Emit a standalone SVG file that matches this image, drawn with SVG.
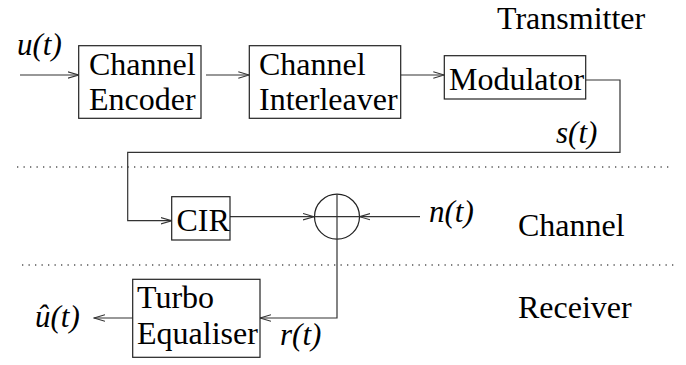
<svg xmlns="http://www.w3.org/2000/svg" width="686" height="365" viewBox="0 0 686 365">
<style>
.box{fill:#fff;stroke:#222;stroke-width:1.2}
.ln{fill:none;stroke:#333;stroke-width:1.2}
.dot{fill:none;stroke:#555;stroke-width:1.3;stroke-dasharray:1.3 5.2}
.t{font-family:"Liberation Serif","Times New Roman",serif;font-size:32px;fill:#000}
.m{font-family:"Liberation Serif","Times New Roman",serif;font-size:31px;font-style:italic;fill:#000}
</style>
<defs>
<marker id="arr" markerUnits="userSpaceOnUse" markerWidth="12" markerHeight="8" refX="11" refY="4" orient="auto">
<path d="M0,0.8 L11,4 L0,7.2" fill="none" stroke="#333" stroke-width="1.1"/>
</marker>
</defs>
<rect width="686" height="365" fill="#fff"/>
<g id="separators">
<line class="dot" x1="17" y1="167" x2="670" y2="167"/>
<line class="dot" x1="22" y1="265" x2="674" y2="265"/>
</g>
<g id="labels">
<text class="t" x="497" y="29">Transmitter</text>
<text class="t" x="518" y="236">Channel</text>
<text class="t" x="518" y="318">Receiver</text>
<text class="m" x="17" y="55">u(t)</text>
<text class="m" x="556" y="143">s(t)</text>
<text class="m" x="429" y="222">n(t)</text>
<text class="m" x="280" y="345">r(t)</text>
<text class="m" x="35" y="327">û(t)</text>
</g>
<g id="connectors">
<line class="ln" x1="20" y1="75" x2="78.7" y2="75" marker-end="url(#arr)"/>
<line class="ln" x1="206" y1="75" x2="249.3" y2="75" marker-end="url(#arr)"/>
<line class="ln" x1="400.7" y1="75" x2="444.3" y2="75" marker-end="url(#arr)"/>
<polyline class="ln" points="585.7,80 620,80 620,152.3 127.7,152.3 127.7,220.7 171.7,220.7" marker-end="url(#arr)"/>
<line class="ln" x1="230" y1="216.7" x2="314" y2="216.7" marker-end="url(#arr)"/>
<line class="ln" x1="420" y1="216.7" x2="359.4" y2="216.7" marker-end="url(#arr)"/>
<polyline class="ln" points="337,239.2 337,318 260,318" marker-end="url(#arr)"/>
<line class="ln" x1="132.7" y1="318" x2="94" y2="318" marker-end="url(#arr)"/>
</g>
<g id="encoder">
<rect class="box" x="78.7" y="45.7" width="122.3" height="72.6"/>
<text class="t" x="89" y="75">Channel</text>
<text class="t" x="89" y="110">Encoder</text>
</g>
<g id="interleaver">
<rect class="box" x="249.3" y="45.7" width="151.4" height="72.6"/>
<text class="t" x="259" y="75">Channel</text>
<text class="t" x="259" y="110">Interleaver</text>
</g>
<g id="modulator">
<rect class="box" x="444.3" y="55.7" width="141.4" height="43.3"/>
<text class="t" x="449" y="90">Modulator</text>
</g>
<g id="cir">
<rect class="box" x="171.7" y="196.7" width="58.3" height="43.3"/>
<text class="t" x="176.5" y="231">CIR</text>
</g>
<g id="adder">
<circle cx="337" cy="216.7" r="22.5" fill="#fff" stroke="#222" stroke-width="1.2"/>
<line class="ln" x1="314.5" y1="216.7" x2="359.5" y2="216.7"/>
<line class="ln" x1="337" y1="194.2" x2="337" y2="239.2"/>
</g>
<g id="equaliser">
<rect class="box" x="132.7" y="279.3" width="127.3" height="78"/>
<text class="t" x="137" y="308">Turbo</text>
<text class="t" x="137" y="344">Equaliser</text>
</g>
</svg>
